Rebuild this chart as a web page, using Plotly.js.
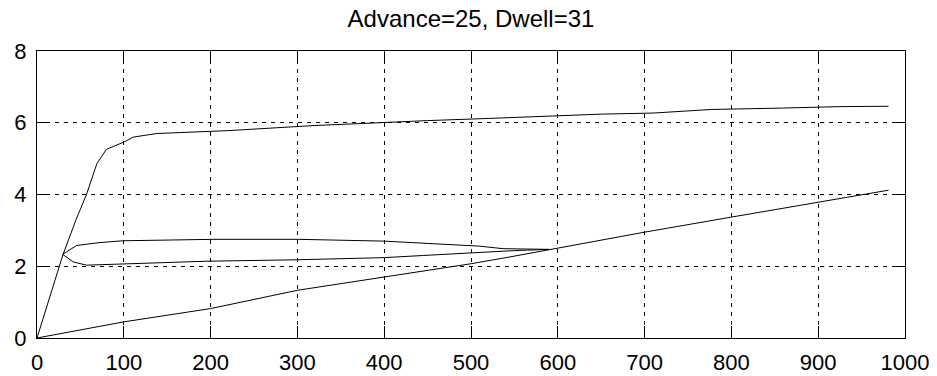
<!DOCTYPE html>
<html>
<head>
<meta charset="utf-8">
<script src="https://cdn.plot.ly/plotly-3.0.1.min.js"></script>
<style>html,body{margin:0;padding:0;background:#fff;}#chart{width:937px;height:376px;}</style>
</head>
<body>
<div id="chart"></div>
<script>
// Steep curve rising to a plateau
const xA = [0, 15, 30, 45, 57, 69, 80, 100, 111, 138, 170, 220, 318, 384, 450, 520, 600, 650, 710, 777, 860, 925, 981];
const yA = [0, 1.2, 2.33, 3.3, 4.0, 4.86, 5.26, 5.46, 5.6, 5.7, 5.73, 5.78, 5.92, 6.0, 6.06, 6.12, 6.2, 6.24, 6.27, 6.37, 6.41, 6.45, 6.46];
// Near-linear rising curve
const xB = [0, 100, 200, 300, 400, 500, 545, 600, 700, 800, 900, 981];
const yB = [0, 0.45, 0.82, 1.33, 1.70, 2.07, 2.26, 2.51, 2.95, 3.37, 3.79, 4.12];
// Loop, upper branch
const xU = [29.6, 45.7, 72.5, 99, 203, 302, 400, 430, 483, 510, 537, 565, 590];
const yU = [2.33, 2.58, 2.66, 2.71, 2.75, 2.75, 2.70, 2.66, 2.61, 2.56, 2.49, 2.47, 2.47];
// Loop, lower branch
const xL = [29.6, 41.8, 57, 84, 99, 195, 299, 400, 445, 491, 537, 565, 590];
const yL = [2.33, 2.12, 2.03, 2.05, 2.07, 2.14, 2.18, 2.24, 2.30, 2.37, 2.42, 2.45, 2.47];

const xTicks = [0, 100, 200, 300, 400, 500, 600, 700, 800, 900, 1000];
const yTicks = [0, 2, 4, 6, 8];

const line = {color: '#000', width: 1};
const traces = [
  {x: xA, y: yA, type: 'scatter', mode: 'lines', line: line, hoverinfo: 'skip'},
  {x: xB, y: yB, type: 'scatter', mode: 'lines', line: line, hoverinfo: 'skip'},
  {x: xU, y: yU, type: 'scatter', mode: 'lines', line: line, hoverinfo: 'skip'},
  {x: xL, y: yL, type: 'scatter', mode: 'lines', line: line, hoverinfo: 'skip'}
];

const axisCommon = {
  showline: true, linecolor: '#000', linewidth: 1, mirror: 'ticks',
  ticks: 'inside', ticklen: 12, tickcolor: '#000', tickwidth: 1,
  showgrid: true, gridcolor: '#000', gridwidth: 1, griddash: '4px,5px',
  zeroline: false,
  tickfont: {family: 'Liberation Sans, Arial, sans-serif', size: 22, color: '#000'}
};

const layout = {
  width: 937, height: 376,
  margin: {l: 37, r: 32, t: 51, b: 38, pad: 0},
  paper_bgcolor: '#fff', plot_bgcolor: '#fff',
  showlegend: false,
  title: {text: 'Advance=25, Dwell=31', x: 0.5, xref: 'paper', y: 0.95, yref: 'container', yanchor: 'middle',
          font: {family: 'Liberation Sans, Arial, sans-serif', size: 24, color: '#000'}},
  xaxis: Object.assign({}, axisCommon, {range: [0, 1000], tickvals: xTicks, ticktext: xTicks.map(String), ticklabelstandoff: 5}),
  yaxis: Object.assign({}, axisCommon, {range: [0, 8], tickvals: yTicks, ticktext: yTicks.map(String), ticklabelstandoff: 5})
};

Plotly.newPlot('chart', traces, layout, {staticPlot: true, displayModeBar: false});
</script>
</body>
</html>
